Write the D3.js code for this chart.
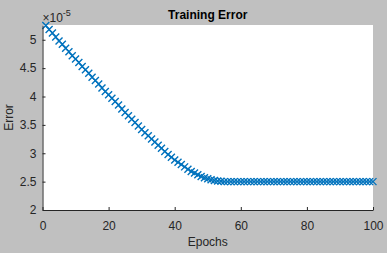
<!DOCTYPE html>
<html>
<head>
<meta charset="utf-8">
<script src="https://cdn.jsdelivr.net/npm/d3@7"></script>
<style>
  body { margin: 0; background: #c0c0c0; }
  svg { display: block; }
</style>
</head>
<body>
<div id="chart"></div>
<script>
// training error per epoch (units of 1e-5)
const epochs = d3.range(1, 101);
const errorValues = [
  5.25, 5.18, 5.12, 5.05, 4.98, 4.92, 4.85, 4.79, 4.72, 4.66,
  4.60, 4.53, 4.47, 4.41, 4.34, 4.28, 4.22, 4.15, 4.09, 4.03,
  3.97, 3.91, 3.85, 3.78, 3.72, 3.66, 3.60, 3.54, 3.48, 3.42,
  3.36, 3.31, 3.25, 3.20, 3.14, 3.09, 3.03, 2.98, 2.93, 2.88,
  2.84, 2.80, 2.76, 2.72, 2.68, 2.65, 2.62, 2.59, 2.57, 2.55,
  2.535, 2.52, 2.51, 2.505, 2.50, 2.50, 2.50, 2.50, 2.50, 2.50,
  2.50, 2.50, 2.50, 2.50, 2.50, 2.50, 2.50, 2.50, 2.50, 2.50,
  2.50, 2.50, 2.50, 2.50, 2.50, 2.50, 2.50, 2.50, 2.50, 2.50,
  2.50, 2.50, 2.50, 2.50, 2.50, 2.50, 2.50, 2.50, 2.50, 2.50,
  2.50, 2.50, 2.50, 2.50, 2.50, 2.50, 2.50, 2.50, 2.50, 2.50
];
const xTicks = [0, 20, 40, 60, 80, 100];
const yTicks = [2, 2.5, 3, 3.5, 4, 4.5, 5];

const width = 387, height = 253,
    margin = {top: 25, right: 14, bottom: 43, left: 42.5},
    fontFamily = "Liberation Sans, Arial, sans-serif",
    axisColor = "#262626",
    lineColor = "#0072bd";

const svg = d3.select("#chart").append("svg")
    .attr("width", width)
    .attr("height", height)
    .style("background", "#c0c0c0");

const x = d3.scaleLinear().domain([0, 100]).range([margin.left, width - margin.right]);
const y = d3.scaleLinear().domain([2, 5.26]).range([height - margin.bottom, margin.top]);

// white plot area
svg.append("rect")
    .attr("x", x(0)).attr("y", y(5.26))
    .attr("width", x(100) - x(0)).attr("height", y(2) - y(5.26))
    .attr("fill", "#fff");

const data = epochs.map((e, i) => ({epoch: e, err: errorValues[i]}));

const line = d3.line().x(d => x(d.epoch)).y(d => y(d.err));
svg.append("path")
    .datum(data)
    .attr("fill", "none")
    .attr("stroke", lineColor)
    .attr("stroke-width", 0.8)
    .attr("d", line);

const m = 3.5; // half-size of the x marker
svg.append("g")
    .selectAll("path")
    .data(data)
    .enter().append("path")
    .attr("fill", "none")
    .attr("stroke", lineColor)
    .attr("stroke-width", 1.4)
    .attr("d", d => {
        const cx = x(d.epoch), cy = y(d.err);
        return `M${cx - m},${cy - m}L${cx + m},${cy + m}M${cx - m},${cy + m}L${cx + m},${cy - m}`;
    });

// axes, ticks pointing inward like matlab
const xAxis = svg.append("g")
    .attr("transform", "translate(0," + y(2) + ")")
    .call(d3.axisBottom(x).tickValues(xTicks).tickSizeInner(-3).tickSizeOuter(0).tickPadding(8));
const yAxis = svg.append("g")
    .attr("transform", "translate(" + x(0) + ",0)")
    .call(d3.axisLeft(y).tickValues(yTicks).tickFormat(d3.format("~g")).tickSizeInner(-3).tickSizeOuter(0).tickPadding(6));

[xAxis, yAxis].forEach(g => {
    g.select(".domain").attr("stroke", axisColor).attr("stroke-width", 1);
    g.selectAll(".tick line").attr("stroke", axisColor);
    g.selectAll(".tick text")
        .attr("fill", axisColor)
        .style("font-family", fontFamily)
        .style("font-size", "12px");
});
xAxis.selectAll(".tick text").attr("dy", "0.71em").attr("y", 11);

// title and labels
svg.append("text")
    .attr("x", (x(0) + x(100)) / 2).attr("y", 19)
    .attr("text-anchor", "middle")
    .style("font-family", fontFamily)
    .style("font-size", "12px")
    .style("font-weight", "bold")
    .attr("fill", "#000")
    .text("Training Error");

svg.append("text")
    .attr("x", (x(0) + x(100)) / 2).attr("y", 246)
    .attr("text-anchor", "middle")
    .style("font-family", fontFamily)
    .style("font-size", "12px")
    .attr("fill", axisColor)
    .text("Epochs");

svg.append("text")
    .attr("transform", "translate(13," + (y(2) + y(5.26)) / 2 + ")rotate(-90)")
    .attr("text-anchor", "middle")
    .style("font-family", fontFamily)
    .style("font-size", "12px")
    .attr("fill", axisColor)
    .text("Error");

// exponent label
const expo = svg.append("text")
    .attr("x", x(0)).attr("y", 21.5)
    .style("font-family", fontFamily)
    .style("font-size", "12px")
    .attr("fill", axisColor);
expo.append("tspan").text("\u00d710");
expo.append("tspan").attr("dy", -6).style("font-size", "9px").text("-5");
</script>
</body>
</html>
